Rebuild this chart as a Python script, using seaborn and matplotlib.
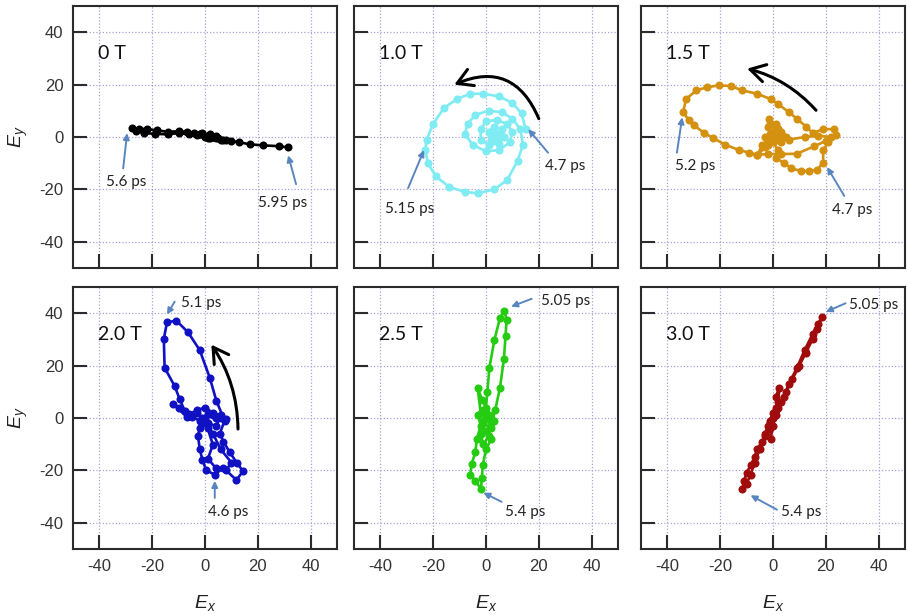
import matplotlib
matplotlib.use("Agg")
import matplotlib.pyplot as plt
import seaborn as sns
import pandas as pd

# ---------------- data ----------------
fields = ["0 T", "1.0 T", "1.5 T", "2.0 T", "2.5 T", "3.0 T"]
colors = ["#000000", "#7eecf2", "#d4900f", "#1111c4", "#25cc12", "#a00c0c"]

ex_0T = [0, 2, -2, 4, 1, -4, -7, -10, -14, -18, -22, -25, -27.5, -26, -23, -19, -14, -10, -6, -3,
         -1, 1, 3, 5, 7, 4, 2, 0, -2, 1, 3, 6, 8, 10, 13, 17, 22, 28, 31.5]
ey_0T = [0, -0.5, 1, -0.5, 0.5, 1.5, 2, 2.2, 2, 2.5, 3, 3.2, 3.4, 2.4, 1.5, 1.2, 1.0, 1.5, 1, 0.8,
         1.5, 0.5, 0, -0.5, -1, 0.2, 1, 0.5, 1, -0.5, 0, -1, -1.2, -1.5, -2, -2.8, -3.2, -3.5, -4]

ex_1T = [15, 13.5, 10, 5, -1, -6, -11, -16, -20, -22.5, -23, -22, -19, -14, -8, -3, 3, 8, 12, 14,
         13, 10, 6, 1, -4, -7, -8, -5, 0, 5, 9, 10, 8, 4, 0, -2, -2, 1, 5, 7, 6, 3, 1, 2, 4, 5, 3, 2]
ey_1T = [3, 9, 13, 15.5, 16.5, 16.5, 14.5, 11, 5, -1, -5, -10, -15, -19, -21, -21.5, -20, -16.5, -9, -3,
         3, 7, 9.5, 10, 8.5, 5, 1, -3, -5.5, -5, -2, 2, 5, 6.5, 6, 3, -1, -3, -2.5, 0, 3, 4, 2, -1, -1, 1, 2, 0.5]

ex_15T = [0, 2, -1, -1.5, 1, 3, -2, -4, -6, -3, 0, 2, 1, 4, 7, 10.6, 13.6, 16.7, 19, 19, 21, 24, 23, 19,
          15, 12.5, 9, 6, 2, -0.7, -6, -11.7, -16, -20.5, -25, -29, -33, -34, -32, -30, -26, -22.7, -18,
          -13, -9, -6, -2, 3, 9, 15.5, 20, 22, 17, 12, 6, 2, 0, -2, 1, 3, -3, -2, 1, 3, 5, 2, -1, 0]
ey_15T = [0, 3, 5, 7, 4, 1, -1, -3, -7, -4, -2, -5, -8, -9.8, -12, -13, -13, -12.5, -9.8, -5, -2, 0.8, 3, 3,
          1.5, 4, 7, 9.5, 12.5, 14.4, 16.5, 17.8, 19.5, 19.7, 19, 17.8, 14.4, 9.5, 6.5, 4.5, 1.5, -0.4, -3,
          -4.9, -6, -6.8, -6.5, -6.5, -6.4, -3.6, -1.5, 0, 0.5, 0, -1, 0, 2, 4, 5, 2, 0, -3, -1, -2, 0, 3, 1, 0]

ex_2T = [0, 3, 6, 4, 1, -2, -2.7, -2, -1, 0.5, 3.7, 7, 11.9, 14.4, 12, 9.3, 7, 5.6, 7.4, 4.3, 1.8, -2,
         -6.4, -10.9, -14.4, -15.6, -15.3, -11.5, -9.6, -7.7, -5, -2, 1, 3, 1.1, 4, 8, 10, 6, 3, 0, -3,
         -7, -12, -10, -6, -3, 0, 3, 6, 8, 4, 1, -1]
ey_2T = [0, 1, 0, -3, -2, -4, -6.7, -11.7, -16, -20, -21.6, -19, -23.7, -20.3, -17, -13, -9, -6, -1, 6.6,
         15.4, 25.9, 32.7, 37.2, 36.5, 30.2, 19.2, 12.2, 7.2, 2.8, 0.5, -1, -4, -10.2, -15.5, -19, -20, -17,
         -12, -6, -1, 2, 0.5, 5.3, 4, 1.5, 3, 4, 2, 1, -0.5, 0, 1.5, 0]

ex_25T = [0, -2, -3.2, -1.5, 0, 0.5, 1.3, 3.2, 5.3, 6.9, 7.8, 7.4, 6.8, 5.3, 3.5, 2, 0, 2, 0, -1.2,
          -1.6, -1.9, -4, -6, -5.4, -4, -3.5, -2, -3, -1, 1, 3, 2, -1, -2, -1, 1, 2, 0, -1]
ey_25T = [0, 2, 11.6, 7, 4, 10, 19.2, 29.9, 38.1, 41, 37.5, 31.4, 22.7, 11.6, 3, -2, -5, -8, -12, -17.9,
          -23, -27.1, -24, -21.8, -17.4, -13, -8, -3, 1, 3, 1, -1, -4, -2, -6, -10, -7, 0, 2, -1]

ex_3T = [0, 1, -1, 2, 2.4, 1, 3, 5, 7.3, 10, 12.4, 15, 16.5, 18.7, 17, 15, 12, 9, 6, 4, 2, 0, -1, -2,
         -3, -4, -6, -7, -8.5, -10, -11, -11.6, -10, -8.5, -7, -5, -3, -1, -0.9, 0, 1, -1, 0, 1]
ey_3T = [0, 3, -1, 6, 11.6, 8, 6, 10, 14.8, 20, 24.9, 30, 34, 38.5, 36, 32, 26, 19, 13, 8, 4, 0, -3, -2.9,
         -6, -9, -11.7, -15, -18, -21, -24, -27.1, -25, -21.8, -17, -12, -7, -4, -8, -3, 1, -2, 2, 4]

tick_vals = [-40, -20, 0, 20, 40]
tick_labels = ["-40", "-20", "0", "20", "40"]

series_x = [ex_0T, ex_1T, ex_15T, ex_2T, ex_25T, ex_3T]
series_y = [ey_0T, ey_1T, ey_15T, ey_2T, ey_25T, ey_3T]

# time annotations: (label, text position, arrow tail, arrow tip)
annotations = [
    [("5.6 ps", (-30, -17), (-31, -12), (-29.5, 1.5)),
     ("5.95 ps", (29.5, -25), (34.5, -18), (31.5, -7))],
    [("4.7 ps", (30, -11), (23.5, -6), (16, 3)),
     ("5.15 ps", (-29, -27.5), (-29.5, -19.5), (-23.5, -5))],
    [("5.2 ps", (-29.5, -11), (-36.4, -6), (-34.4, 7.5)),
     ("4.7 ps", (30, -28), (27, -22.5), (20.5, -11.5))],
    [("5.1 ps", (-1.5, 44), (-11.5, 44.4), (-14.4, 39.5)),
     ("4.6 ps", (8.7, -35.7), (3.7, -30.5), (3.7, -24))],
    [("5.05 ps", (30, 44.5), (17.3, 45.5), (9.5, 42.5)),
     ("5.4 ps", (14.8, -36), (5.9, -32), (-1, -28.5))],
    [("5.05 ps", (38, 43), (27.5, 43.8), (20, 40.5)),
     ("5.4 ps", (10.5, -35.8), (1.5, -35), (-8.5, -29.5))],
]
rotation_arrows = {1: ((20, 7), (-12, 20), 0.5), 2: ((16.3, 10.2), (-9.8, 26.1), 0.15),
                   3: ((12.5, -4.2), (2.4, 28), 0.15)}

# ---------------- style ----------------
sns.set_style("white")
plt.rcParams["font.family"] = ["Liberation Sans", "DejaVu Sans"]
plt.rcParams["mathtext.fontset"] = "custom"
plt.rcParams["mathtext.it"] = "Liberation Sans:italic"
plt.rcParams["mathtext.rm"] = "Liberation Sans"

fig = plt.figure(figsize=(9.08, 6.15), dpi=100)
W, H = 908.0, 615.0
col_x = [73, 354, 641]
row_y = [6, 287]
pw, ph = 264, 262

label_font = ["Lato", "DejaVu Sans"]
arrow_blue = "#5a86c0"

for i in range(6):
    r, c = divmod(i, 3)
    left = col_x[c] / W
    bottom = 1 - (row_y[r] + ph) / H
    ax = fig.add_axes([left, bottom, pw / W, ph / H])
    df = pd.DataFrame({"Ex": series_x[i], "Ey": series_y[i]})
    sns.lineplot(data=df, x="Ex", y="Ey", sort=False, estimator=None, ax=ax,
                 color=colors[i], marker="o", markersize=5.8, markeredgewidth=0,
                 linewidth=1.9, zorder=3)
    ax.set_xlim(-50, 50)
    ax.set_ylim(-50, 50)
    ax.set_xticks(tick_vals)
    ax.set_yticks(tick_vals)
    ax.set_xticklabels(tick_labels if r == 1 else [])
    ax.set_yticklabels(tick_labels if c == 0 else [])
    ax.tick_params(direction="in", length=10, width=1.5, color="#2b2b2b",
                   labelsize=12, labelcolor="#333333", pad=7,
                   left=True, bottom=True, top=False, right=False)
    ax.grid(True, linestyle=(0, (1.0, 1.6)), color="#a4a4da", linewidth=0.9, zorder=0)
    ax.set_axisbelow(True)
    for s in ax.spines.values():
        s.set_color("#2b2b2b")
        s.set_linewidth(1.5)
    ax.set_xlabel("")
    ax.set_ylabel("")

    ax.text(-40.5, 32, fields[i], fontsize=14, family=label_font, color="#111111",
            ha="left", va="center", zorder=5)

    for lab, tpos, tail, tip in annotations[i]:
        ax.text(tpos[0], tpos[1], lab, fontsize=11, family=label_font, color="#222222",
                ha="center", va="center", zorder=5)
        ax.annotate("", xy=tip, xytext=tail,
                    arrowprops=dict(arrowstyle="-|>", color=arrow_blue, lw=1.4,
                                    mutation_scale=9, shrinkA=0, shrinkB=0),
                    zorder=5)

    if i in rotation_arrows:
        tail, tip, rad = rotation_arrows[i]
        ax.annotate("", xy=tip, xytext=tail,
                    arrowprops=dict(arrowstyle="->,head_length=0.6,head_width=0.35",
                                    color="black", lw=2.2,
                                    connectionstyle=f"arc3,rad={rad}",
                                    shrinkA=0, shrinkB=0, mutation_scale=18),
                    zorder=5)

# axis labels
for c in range(3):
    xc = (col_x[c] + pw / 2) / W
    fig.text(xc, 1 - 603 / H, r"$E_x$", fontsize=14, ha="center", va="center", color="#222222")
for r in range(2):
    yc = 1 - (row_y[r] + ph / 2) / H
    fig.text(18 / W, yc, r"$E_y$", fontsize=14, ha="center", va="center", rotation=90, color="#222222")

fig.savefig("out.png", dpi=100)
